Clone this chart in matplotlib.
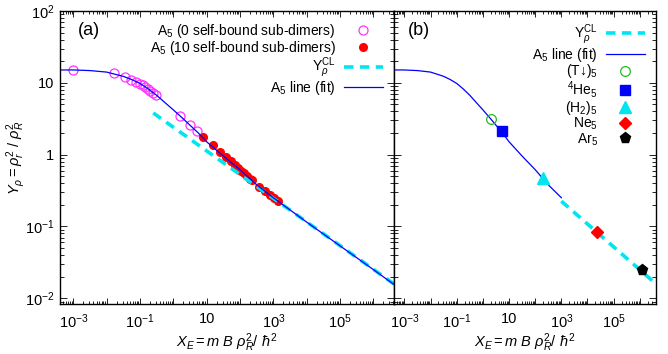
import numpy as np
import matplotlib
matplotlib.use("Agg")
from matplotlib import pyplot as plt
from matplotlib.ticker import LogLocator, FixedLocator, FuncFormatter, NullFormatter

plt.rcParams.update({
    "font.family": ["Liberation Sans", "DejaVu Sans"],
    "mathtext.fontset": "custom",
    "mathtext.rm": "Liberation Sans",
    "mathtext.it": "Liberation Sans:italic",
    "mathtext.bf": "Liberation Sans:bold",
    "font.size": 10,
})

# fit line (A5)
fit_x = [4.0e-4, 1e-3, 3.16e-3, 0.01, 0.0316, 0.0562, 0.1, 0.178, 0.316, 0.562,
         1.0, 1.78, 3.16, 5.62, 10, 31.6, 100, 316, 1000, 1e4, 1e5, 1e6, 4.2e6]
fit_y = [15.1, 15.1, 14.8, 14.1, 12.3, 11.1, 9.8, 8.2, 6.7, 5.3,
         4.2, 3.3, 2.57, 2.0, 1.51, 0.955, 0.617, 0.38, 0.251, 0.115, 0.0537, 0.0251, 0.0155]

# classical limit line
cl_x_a = [0.25, 4.2e6]
cl_y_a = [3.8, 0.0158]
cl_x_b = [1000, 4.2e6]
cl_y_b = [0.225, 0.0158]

# A5, 0 self-bound sub-dimers
a0_x = [1e-3, 0.017, 0.035, 0.054, 0.076, 0.10, 0.12, 0.144, 0.17, 0.20, 0.24, 0.30, 1.6, 3.2, 5.3]
a0_y = [15.0, 13.6, 12.2, 11.0, 10.3, 9.7, 9.3, 8.8, 8.3, 7.8, 7.3, 6.8, 3.5, 2.6, 2.1]

# A5, 10 self-bound sub-dimers
a10_x = [7.8, 15.5, 25, 37, 52, 69, 86, 109, 130, 163, 204, 230, 360, 575, 810, 1070, 1350]
a10_y = [1.74, 1.35, 1.08, 0.92, 0.81, 0.72, 0.65, 0.60, 0.56, 0.51, 0.46, 0.44, 0.35, 0.31, 0.27, 0.245, 0.224]

# real pentamers, panel (b)
species = ["(T↓)$_5$", r"$^4$He$_5$", r"(H$_2$)$_5$", r"Ne$_5$", r"Ar$_5$"]
sp_x = [2.1, 5.6, 195, 2.3e4, 1.2e6]
sp_y = [3.1, 2.1, 0.48, 0.083, 0.025]
sp_marker = ["o", "s", "^", "D", "p"]
sp_color = ["#22bb22", "#0000ff", "#00e5ee", "#ff0000", "#000000"]
sp_size = [7, 7.5, 8, 6.5, 8]
sp_fill = ["none", None, None, None, None]

cyan = "#00e5ee"
dash = (0, (2.6, 1.8))

fig = plt.figure(figsize=(6.68, 3.54), dpi=100)
ax1 = fig.add_axes([60/668, 50/354, 334/668, 293/354])
ax2 = fig.add_axes([394/668, 50/354, 262/668, 293/354])

xlim = (10**-3.4, 10**6.62)
ylim = (10**-2.08, 100)

xlab = {-3: r"$10^{-3}$", -1: r"$10^{-1}$", 1: "10", 3: r"$10^{3}$", 5: r"$10^{5}$"}
ylab = {-2: r"$10^{-2}$", -1: r"$10^{-1}$", 0: "1", 1: "10", 2: r"$10^{2}$"}


def xfmt(v, pos):
    e = int(round(np.log10(v)))
    return xlab.get(e, "")


def yfmt(v, pos):
    e = int(round(np.log10(v)))
    return ylab.get(e, "")


for ax in (ax1, ax2):
    ax.set_xscale("log")
    ax.set_yscale("log")
    ax.set_xlim(*xlim)
    ax.set_ylim(*ylim)
    ax.xaxis.set_major_locator(FixedLocator([10.0**e for e in range(-3, 7)]))
    ax.xaxis.set_minor_locator(LogLocator(base=10, subs=np.arange(2, 10), numticks=30))
    ax.yaxis.set_major_locator(FixedLocator([10.0**e for e in range(-2, 3)]))
    ax.yaxis.set_minor_locator(LogLocator(base=10, subs=np.arange(2, 10), numticks=30))
    ax.xaxis.set_major_formatter(FuncFormatter(xfmt))
    ax.xaxis.set_minor_formatter(NullFormatter())
    ax.yaxis.set_major_formatter(FuncFormatter(yfmt))
    ax.yaxis.set_minor_formatter(NullFormatter())
    ax.tick_params(which="both", direction="in", top=True, right=True, labelsize=10.5, width=0.6)
    ax.tick_params(axis="x", which="major", length=4, pad=6)
    ax.tick_params(axis="x", which="minor", length=2.5)
    ax.tick_params(axis="y", which="major", length=5, pad=4)
    ax.tick_params(axis="y", which="minor", length=3)
    for s in ax.spines.values():
        s.set_linewidth(1.0)
    ax.set_xlabel(r"$X_E = m\ B\ \rho_R^2 /\ \hbar^2$", fontsize=10.5, labelpad=0)

ax2.tick_params(axis="y", labelleft=False)

# panel (a)
ax1.plot(a0_x, a0_y, "o", ms=6.5, mfc="none", mec="#ff33ff", mew=0.9,
         label=r"A$_5$ (0 self-bound sub-dimers)")
ax1.plot(a10_x, a10_y, "o", ms=5.5, color="#ff0000", mec="#ff0000",
         label=r"A$_5$ (10 self-bound sub-dimers)")
ax1.plot(cl_x_a, cl_y_a, color=cyan, lw=2.6, ls=dash, dash_capstyle="butt",
         label=r"Y$_\rho^{\rm CL}$")
ax1.plot(fit_x, fit_y, color="#0000ff", lw=0.9, label=r"A$_5$ line (fit)")
ax1.set_ylabel(r"$Y_\rho = \rho_r^2\ /\ \rho_R^2$", fontsize=10.5)
ax1.yaxis.set_label_coords(-0.1, 0.5)
ax1.text(0.054, 0.935, "(a)", transform=ax1.transAxes, fontsize=13, va="center")
ax1.legend(loc="upper right", frameon=False, markerfirst=False, fontsize=10,
           handlelength=2.8, handletextpad=0.6, labelspacing=-0.08,
           borderaxespad=0.6, borderpad=0.2, numpoints=1)

# panel (b)
bx = [x for x in fit_x if x <= 1000]
by = fit_y[:len(bx)]
ax2.plot(cl_x_b, cl_y_b, color=cyan, lw=2.6, ls=dash, dash_capstyle="butt",
         label=r"Y$_\rho^{\rm CL}$")
ax2.plot(bx, by, color="#0000ff", lw=0.9, label=r"A$_5$ line (fit)")
for i in range(len(species)):
    if sp_fill[i] == "none":
        ax2.plot(sp_x[i], sp_y[i], sp_marker[i], ms=sp_size[i], mfc="none",
                 mec=sp_color[i], mew=0.9, label=species[i])
    else:
        ax2.plot(sp_x[i], sp_y[i], sp_marker[i], ms=sp_size[i], color=sp_color[i],
                 mec=sp_color[i], label=species[i])
ax2.text(0.053, 0.935, "(b)", transform=ax2.transAxes, fontsize=13, va="center")
ax2.legend(loc="upper right", frameon=False, markerfirst=False, fontsize=10,
           handlelength=2.8, handletextpad=0.6, labelspacing=-0.08,
           borderaxespad=0.6, borderpad=0.2, numpoints=1)

fig.savefig("out.png", dpi=100)
